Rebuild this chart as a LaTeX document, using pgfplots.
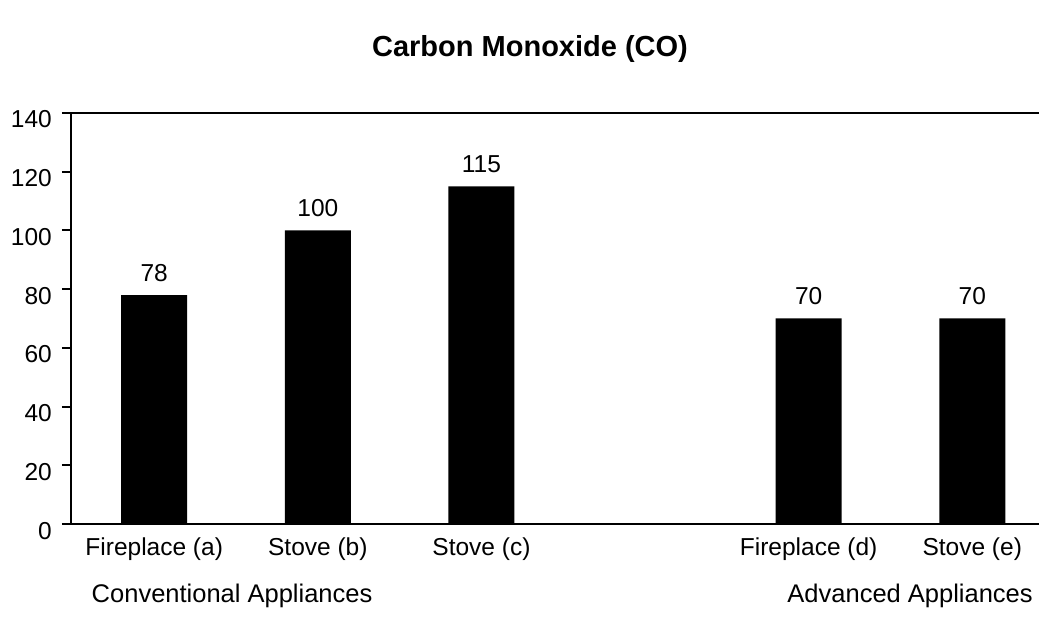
\documentclass[border=0pt]{standalone}
\usepackage{pgfplots}
\pgfplotsset{compat=1.18}
\usepackage{fontspec}
\setmainfont{Liberation Sans}
\newcommand\tickfont{\fontsize{24.5bp}{28bp}\selectfont}
\newcommand\groupfont{\fontsize{25.5bp}{30bp}\selectfont}
\newcommand\titlefont{\fontsize{29bp}{33bp}\selectfont\bfseries}
\begin{document}
\begin{tikzpicture}
\useasboundingbox (-71bp,-111bp) rectangle (968bp,524bp);
\begin{axis}[
  at={(0,0)}, anchor=south west,
  scale only axis,
  width=968bp, height=411bp,
  xmin=-0.5086, xmax=5.408,
  ymin=0, ymax=140,
  ytick={0,20,...,140},
  xtick={0,1,2,4,5},
  xticklabels={Fireplace (a),Stove (b),Stove (c),Fireplace (d),Stove (e)},
  axis x line*=bottom,
  axis y line*=left,
  axis line style={-, line width=2bp, black},
  tick align=outside,
  major tick length=9bp,
  ytick style={line width=2bp, black},
  xtick style={draw=none},
  /pgf/number format/assume math mode=true,
  tick label style={font=\tickfont},
  yticklabel style={anchor=base east, inner sep=0pt, xshift=-10bp, yshift=-15bp},
  xticklabel style={anchor=base, inner sep=0pt, yshift=-22bp},
  clip=false,
  ybar,
  bar width=66bp,
  nodes near coords,
  every node near coord/.style={font=\tickfont, anchor=base, inner sep=0pt, yshift=14bp},
]
\addplot[fill=black, draw=none] coordinates {(0,78) (1,100) (2,115) (4,70) (5,70)};
\draw[line width=2bp] (rel axis cs:0,1) -- (rel axis cs:1,1);
\node[anchor=base, font=\titlefont] at ([xshift=-25bp, yshift=56bp]rel axis cs:0.5,1) {Carbon Monoxide (CO)};
\node[anchor=base, font=\groupfont, inner sep=0pt] at ([yshift=-78bp]axis cs:0.476,0) {Conventional Appliances};
\node[anchor=base, font=\groupfont, inner sep=0pt] at ([yshift=-78bp]axis cs:4.62,0) {Advanced Appliances};
\end{axis}
\end{tikzpicture}
\end{document}
